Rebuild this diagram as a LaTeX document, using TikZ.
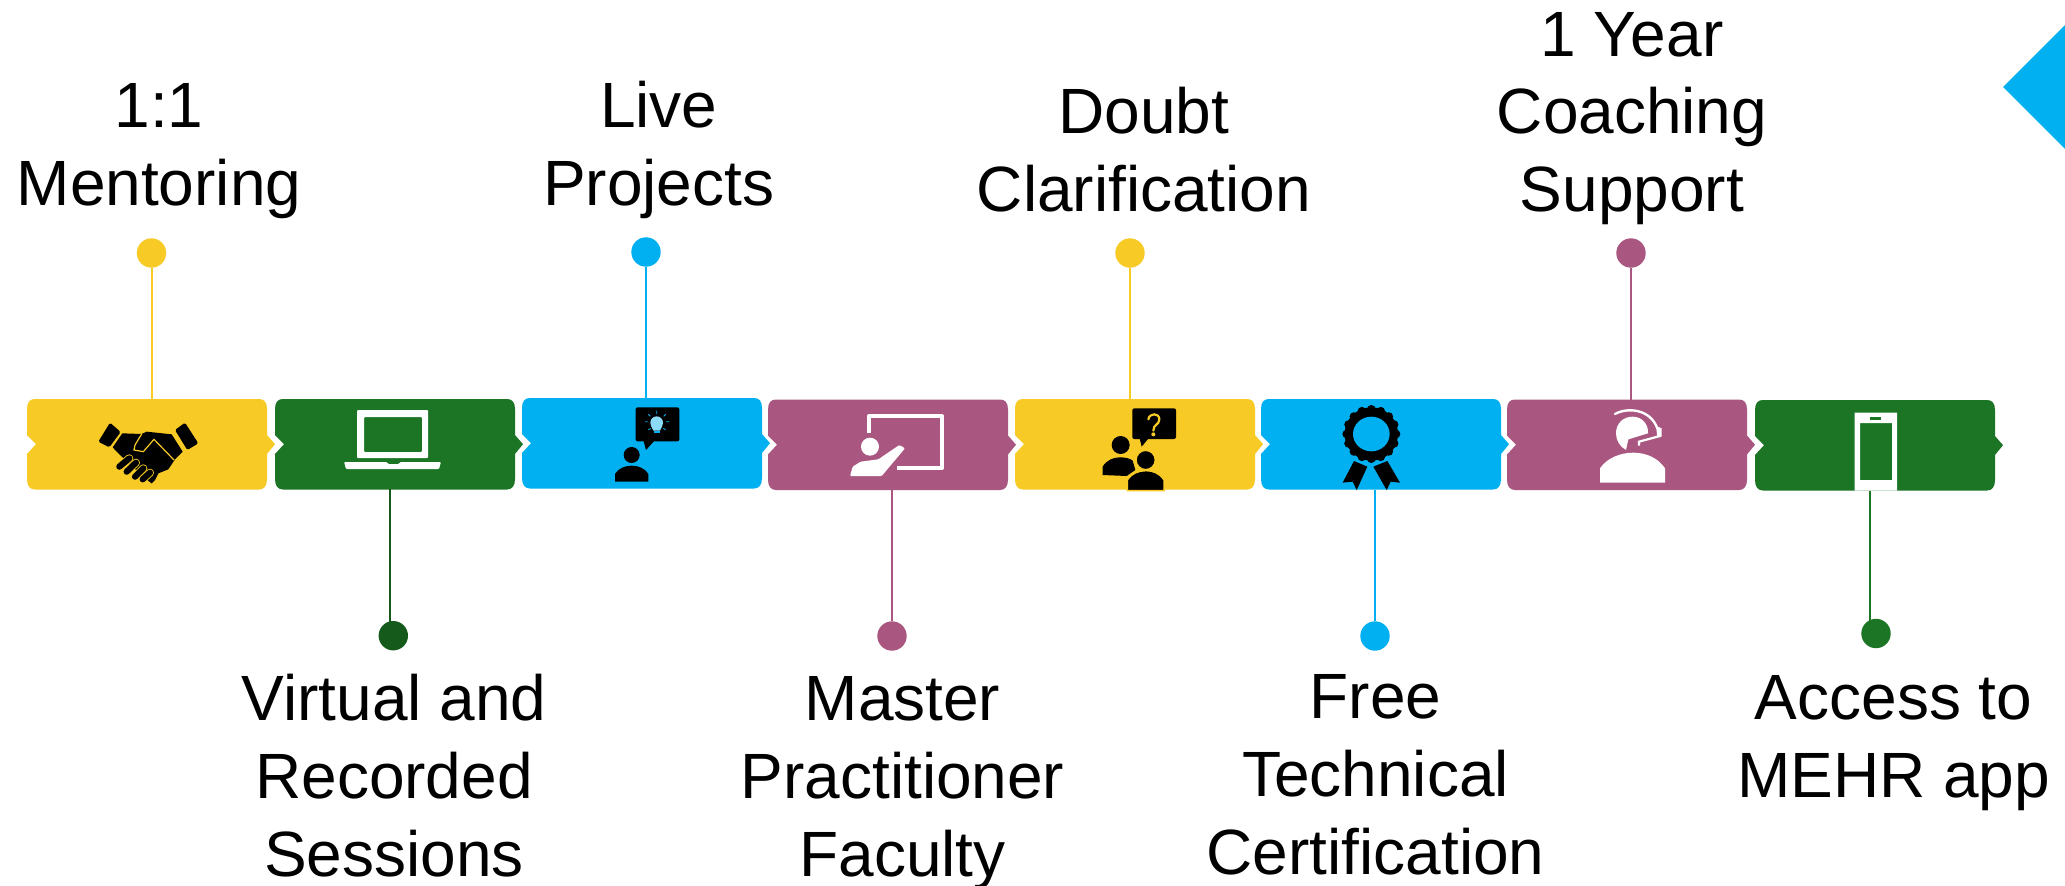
\documentclass[tikz,border=0pt]{standalone}
\usepackage{fontspec}
\setmainfont{Liberation Sans}
\definecolor{cyel}{HTML}{F7CA25}
\definecolor{cgrn}{HTML}{1B7525}
\definecolor{cdgr}{HTML}{155A1B}
\definecolor{cblu}{HTML}{00B0F0}
\definecolor{cmau}{HTML}{A95780}
\tikzset{
  lbl/.style={align=center,inner sep=0pt,outer sep=0pt,text=black,font=\fontsize{64}{77.7}\selectfont},
  dotnode/.style={circle,fill=#1,draw=none,minimum size=29.4pt,inner sep=0pt},
  stem/.style={line width=2pt,draw=#1},
  box/.style={draw=none,inner sep=0pt,outer sep=0pt,anchor=north west,minimum width=240pt,minimum height=90.5pt},
  ico/.style={x=.33333pt,y=-.33333pt}
}
\newcommand{\blk}[4]{%
  \fill[#4,shift={(#2,#3)}] (0,36) -- (9,45.2) -- (0,55) -- (0,80)
    .. controls (0,87) and (3,90.5) .. (8,90.5) -- (232,90.5)
    .. controls (237,90.5) and (240,87) .. (240,80) -- (240,55) -- (248,45.2) -- (240,36) -- (240,10)
    .. controls (240,3) and (237,0) .. (232,0) -- (8,0)
    .. controls (3,0) and (0,3) .. (0,10) -- cycle;
  \node[box] (#1) at (#2,#3) {};
}
\begin{document}
\begin{tikzpicture}[x=1pt,y=-1pt]
\useasboundingbox (0,0) rectangle (2065,886);
\fill[white] (0,0) rectangle (2065,886);
% corner diamond
\fill[cblu] (2003,87) -- (2065,25) -- (2065,149) -- cycle;
% blocks
\blk{b1}{27}{399}{cyel}
\blk{b2}{275}{399}{cgrn}
\blk{b3}{522}{398}{cblu}
\blk{b4}{768}{399.5}{cmau}
\blk{b5}{1015}{399}{cyel}
\blk{b6}{1261}{399}{cblu}
\blk{b7}{1507}{399.5}{cmau}
\blk{b8}{1755}{400}{cgrn}
% dots
\node[dotnode=cyel] (d1) at (151.5,253) {};
\node[dotnode=cdgr] (d2) at (393.3,635.7) {};
\node[dotnode=cblu] (d3) at (646,252) {};
\node[dotnode=cmau] (d4) at (892,636) {};
\node[dotnode=cyel] (d5) at (1130,253) {};
\node[dotnode=cblu] (d6) at (1375,636) {};
\node[dotnode=cmau] (d7) at (1631,253) {};
\node[dotnode=cgrn] (d8) at (1876,633.5) {};
% stems
\draw[stem=cyel] (d1) -- (d1|-b1.north);
\draw[stem=cdgr] (d2.center)++(-3.3,-14) -- ++(0,-133);
\draw[stem=cblu] (d3) -- (d3|-b3.north);
\draw[stem=cmau] (d4) -- (d4|-b4.south);
\draw[stem=cyel] (d5) -- (d5|-b5.north);
\draw[stem=cblu] (d6) -- (d6|-b6.south);
\draw[stem=cmau] (d7) -- (d7|-b7.north);
\draw[stem=cgrn] (d8.center)++(-6,-13) -- ++(0,-130);
% labels (anchor=base is the last line's baseline)
\node[lbl,anchor=base] (t1) at (159,205) {1:1\\Mentoring};
\node[lbl,anchor=base] (t2) at (394,876) {Virtual and\\Recorded\\Sessions};
\node[lbl,anchor=base] (t3) at (658.7,205) {Live\\Projects};
\node[lbl,anchor=base] (t4) at (902.5,876) {Master\\Practitioner\\Faculty};
\node[lbl,anchor=base] (t5) at (1144,211.5) {Doubt\\Clarification};
\node[lbl,anchor=base] (t6) at (1375.5,874) {Free\\Technical\\Certification};
\node[lbl,anchor=base] (t7) at (1632,211.5) {1 Year\\Coaching\\Support};
\node[lbl,anchor=base] (t8) at (1893.5,797.5) {Access to\\MEHR app};
% icon 1 handshake
\begin{scope}[shift={(90,410)},ico]
 \fill[black,rounded corners=1.5pt] (60,38) -- (92,66) -- (58,112) -- (25,95) -- cycle;
 \fill[black,rounded corners=1.5pt] (285,38) -- (325,100) -- (292,120) -- (255,60) -- cycle;
 \fill[black] (97,70) -- (155,72) -- (170,65) -- (245,73) -- (278,125) -- (255,148) -- (235,178) -- (205,190) -- (195,210) -- (185,220) -- (165,205) -- (85,130) -- (68,112) -- cycle;
 \draw[cyel,line width=1.2pt,line join=round] (155,72) -- (135,105) -- (132,120) -- (160,125) -- (192,88) -- (252,150);
 \foreach \a/\b/\c/\d in {88/170/118/145,110/185/138/158,135/200/160/175,158/208/180/188}{
   \draw[cyel,line width=8pt,line cap=round] (\a,\b) -- (\c,\d);
   \draw[black,line width=6.2pt,line cap=round] (\a,\b) -- (\c,\d);
 }
\end{scope}
% icon 2 laptop
\fill[white,even odd rule,rounded corners=1pt] (357,410) rectangle (428,458) (364,417) rectangle (422,452);
\fill[white,rounded corners=1pt] (344,462) -- (387,462) -- (388,464) -- (399,464) -- (400,462) -- (441,462) -- (439,469) -- (346,469) -- cycle;
% icon 3 idea
\begin{scope}[shift={(600,400)},ico]
 \fill[black,rounded corners=2pt] (107,22) rectangle (238,124);
 \fill[black] (130,120) -- (138,150) -- (165,120) -- cycle;
 \fill[black] (95,165) circle (24);
 \fill[black] (45,245) -- (45,222) .. controls (55,205) and (75,197) .. (95,197) .. controls (115,197) and (135,205) .. (145,222) -- (145,245) -- cycle;
 \fill[cblu!45!white] (170,68) circle (19);
 \fill[cblu!45!white] (153,78) -- (187,78) -- (180,92) -- (160,92) -- cycle;
 \fill[cblu] (162,94) rectangle (180,100);
 \draw[cblu,line width=.8pt] (170,32) -- (170,42) (145,43) -- (151,49) (197,43) -- (191,49) (135,65) -- (143,65) (198,65) -- (207,65) (145,90) -- (152,85) (197,90) -- (190,85);
\end{scope}
% icon 4 board
\begin{scope}[shift={(840,400)},ico]
 \draw[white,line width=4.3pt,line join=round] (88,100) -- (88,48) -- (305,48) -- (305,205) -- (170,205);
 \fill[white] (90,140) circle (27);
 \fill[white,rounded corners=1pt] (30,228) -- (38,200) -- (62,185) -- (115,178) -- (178,135) -- (195,145) -- (125,228) -- cycle;
\end{scope}
% icon 5 question
\begin{scope}[shift={(1090,400)},ico]
 \fill[black,rounded corners=2pt] (127,25) rectangle (258,117);
 \fill[black] (148,112) -- (155,140) -- (178,112) -- cycle;
 \draw[cyel,line width=2.2pt,line cap=round] (175,58) .. controls (178,38) and (208,38) .. (208,58) .. controls (208,75) and (190,72) .. (190,92);
 \fill[cyel] (190,103) circle (6);
 \fill[black] (92,135) circle (27);
 \fill[black] (38,225) -- (38,200) .. controls (50,180) and (70,172) .. (90,172) .. controls (105,172) and (120,175) .. (128,182) -- (136,210) -- (110,228) -- cycle;
 \fill[black,draw=cyel,line width=1.5pt] (167,180) circle (29);
 \fill[black,draw=cyel,line width=1.5pt] (112,272) -- (112,240) .. controls (125,220) and (145,212) .. (167,212) .. controls (190,212) and (210,220) .. (222,240) -- (222,272) -- cycle;
\end{scope}
% icon 6 ribbon
\begin{scope}[shift={(1330,400)},ico]
 \fill[black] (72,183) -- (112,200) -- (80,270) -- (68,245) -- (38,248) -- cycle;
 \fill[black] (172,183) -- (130,200) -- (170,270) -- (182,245) -- (210,248) -- cycle;
 \fill[black] (124,102) circle (80);
 \foreach \t in {0,22.5,...,337.5}{\fill[black] (124,102) ++(\t:74) circle (13);}
 \fill[cblu] (124,102) ellipse (55 and 52);
\end{scope}
% icon 7 headset
\begin{scope}[shift={(1570,400)},ico]
 \fill[white] (188,50) .. controls (218,50) and (236,75) .. (234,100) -- (175,118) -- (168,150) .. controls (150,140) and (138,122) .. (138,100) .. controls (138,70) and (160,50) .. (188,50) -- cycle;
 \draw[white,line width=2.4pt,line cap=round] (135,42) .. controls (170,22) and (240,25) .. (262,85);
 \fill[white] (258,78) -- (275,85) -- (275,110) -- (262,112) -- cycle;
 \draw[white,line width=2.2pt] (270,108) -- (207,125) -- (207,137);
 \fill[white] (90,248) -- (90,205) .. controls (110,175) and (150,158) .. (190,158) .. controls (230,158) and (265,175) .. (285,205) -- (285,248) -- cycle;
\end{scope}
% icon 8 phone
\fill[white,even odd rule] (1854.6,412.7) rectangle (1897,490.7) (1860,423) rectangle (1892,480);
\fill[cgrn] (1870,417) rectangle (1881,420);
\end{tikzpicture}
\end{document}
